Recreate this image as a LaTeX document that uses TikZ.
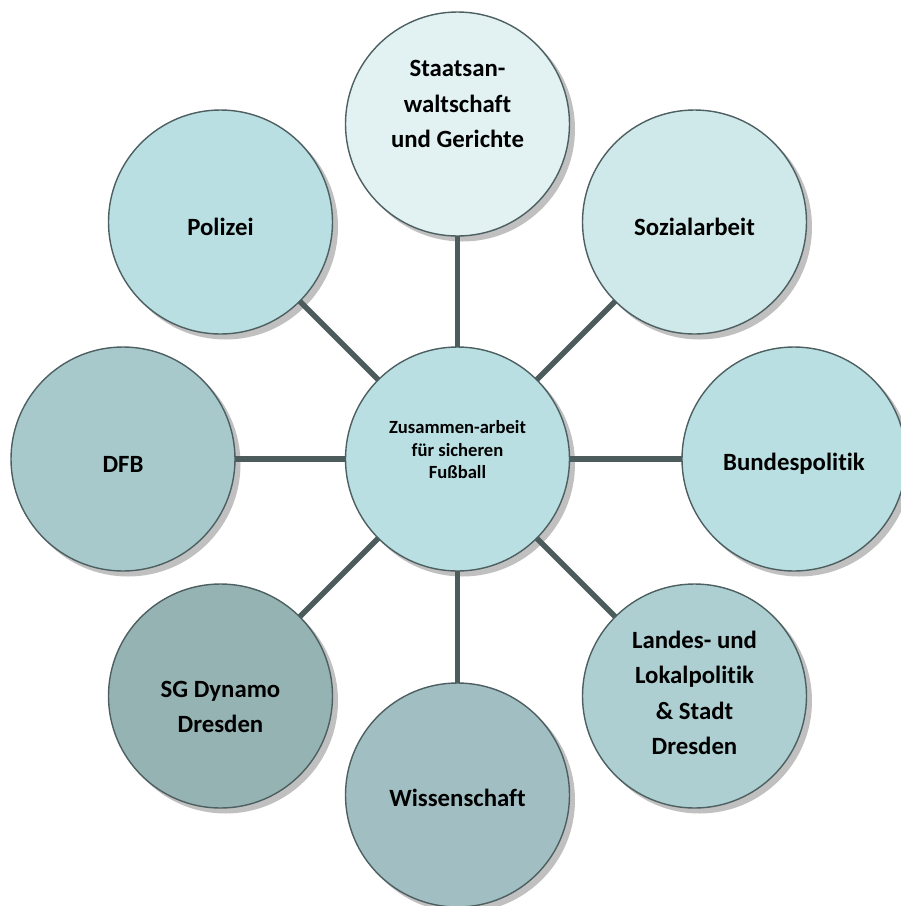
\documentclass[tikz,border=0pt]{standalone}
\usepackage{fontspec}
\setmainfont{Carlito}[RawFeature=-liga]
\definecolor{bordercol}{HTML}{4D5F60}
\definecolor{linkcol}{HTML}{4C5C5D}
\definecolor{shadowcol}{HTML}{C0C0C0}
\definecolor{colA}{HTML}{E2F2F3}
\definecolor{colB}{HTML}{CFE8EA}
\definecolor{colC}{HTML}{B9DFE2}
\definecolor{colD}{HTML}{ADCFD2}
\definecolor{colE}{HTML}{A1BFC2}
\definecolor{colF}{HTML}{96B3B4}
\definecolor{colG}{HTML}{A8C9CC}
\begin{document}
\begin{tikzpicture}[x=1pt,y=-1pt,
  bubble/.style={circle, draw=bordercol, line width=1.4pt, minimum size=224pt, inner sep=0pt, outer sep=0pt},
  shade/.style={circle, fill=shadowcol, minimum size=225pt, inner sep=0pt, outer sep=0pt},
  link/.style={draw=linkcol, line width=5.5pt},
  lbl/.style={font=\bfseries\fontsize{24.8}{35.5}\selectfont, align=center, inner sep=0pt},
  clbl/.style={font=\bfseries\fontsize{18.6}{22.5}\selectfont, align=center, inner sep=0pt}]
\path[use as bounding box] (0,0) rectangle (901,906);
\clip (0,0) rectangle (901,906);
% shadows
\foreach \x/\y [count=\i] in {457.5/459, 457.5/124, 694.5/222, 794/459, 694.5/696, 457.5/795, 220.5/696, 123/459, 220.5/222}
  \node[shade] (s\i) at (\x+5,\y+5) {};
% circles
\node[bubble, fill=colC] (c) at (457.5,459) {};
\node[bubble, fill=colA] (n1) at (457.5,124) {};
\node[bubble, fill=colB] (n2) at (694.5,222) {};
\node[bubble, fill=colC] (n3) at (794,459) {};
\node[bubble, fill=colD] (n4) at (694.5,696) {};
\node[bubble, fill=colE] (n5) at (457.5,795) {};
\node[bubble, fill=colF] (n6) at (220.5,696) {};
\node[bubble, fill=colG] (n7) at (123,459) {};
\node[bubble, fill=colC] (n8) at (220.5,222) {};
% connectors
\foreach \n in {n1,n2,n3,n4,n5,n6,n7,n8}
  \draw[link] (c) -- (\n);
% labels
\node[clbl] (tc) at (457.5,450) {Zusammen-arbeit\\für sicheren\\Fußball};
\node[lbl] (t1) at (457.5,104) {Staatsan-\\waltschaft\\und Gerichte};
\node[lbl] (t2) at (694.5,227) {Sozialarbeit};
\node[lbl] (t3) at (794,464) {Bundespolitik};
\node[lbl] (t4) at (694.5,693) {Landes- und\\Lokalpolitik\\\&~Stadt\\Dresden};
\node[lbl] (t5) at (457.5,798) {Wissenschaft};
\node[lbl] (t6) at (220.5,707) {SG Dynamo\\Dresden};
\node[lbl] (t7) at (123,464) {DFB};
\node[lbl] (t8) at (220.5,227) {Polizei};
\end{tikzpicture}
\end{document}
